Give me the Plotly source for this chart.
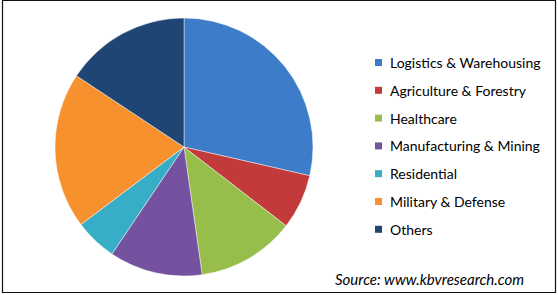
import plotly.graph_objects as go

categories = ["Logistics & Warehousing", "Agriculture & Forestry", "Healthcare",
              "Manufacturing & Mining", "Residential", "Military & Defense", "Others"]
shares = [28.6, 6.9, 12.3, 11.7, 5.3, 19.6, 15.7]
colors = ["#3D7CC9", "#C23B3A", "#97BE4A", "#7452A0", "#38ADC6", "#F6912E", "#1E4574"]
source_text = "Source: www.kbvresearch.com"

W, H = 558, 295

fig = go.Figure()
fig.add_trace(go.Pie(
    labels=categories, values=shares, sort=False, direction="clockwise", rotation=0,
    marker=dict(colors=colors, line=dict(color="rgba(255,255,255,0.45)", width=1)),
    textinfo="none", hoverinfo="label+percent", showlegend=False,
    domain=dict(x=[55 / W, 313 / W], y=[(H - 276) / H, (H - 18) / H]),
))

shapes = []
annotations = []
# border
shapes.append(dict(type="rect", xref="paper", yref="paper",
                   x0=2.5 / W, x1=555.5 / W, y0=(H - 292.5) / H, y1=(H - 0.5) / H,
                   line=dict(color="#111111", width=1.2), fillcolor="rgba(0,0,0,0)"))

row0, step = 62.5, 27.8
for i, (cat, col) in enumerate(zip(categories, colors)):
    yc = row0 + i * step
    shapes.append(dict(type="rect", xref="paper", yref="paper",
                       x0=375 / W, x1=382 / W, y0=(H - yc - 3.5) / H, y1=(H - yc + 3.5) / H,
                       line=dict(width=0), fillcolor=col))
    annotations.append(dict(text=cat, xref="paper", yref="paper", x=387.5 / W, y=(H - yc) / H,
                            xanchor="left", yanchor="middle", showarrow=False,
                            font=dict(family="Lato", size=14, color="#000000")))

annotations.append(dict(text="<i>" + source_text + "</i>", xref="paper", yref="paper",
                        x=333 / W, y=(H - 279) / H, xanchor="left", yanchor="middle",
                        showarrow=False, font=dict(family="Lato", size=15, color="#000000")))

fig.update_layout(width=W, height=H, margin=dict(l=0, r=0, t=0, b=0),
                  paper_bgcolor="white", plot_bgcolor="white",
                  shapes=shapes, annotations=annotations)
fig.write_html("out.html")
